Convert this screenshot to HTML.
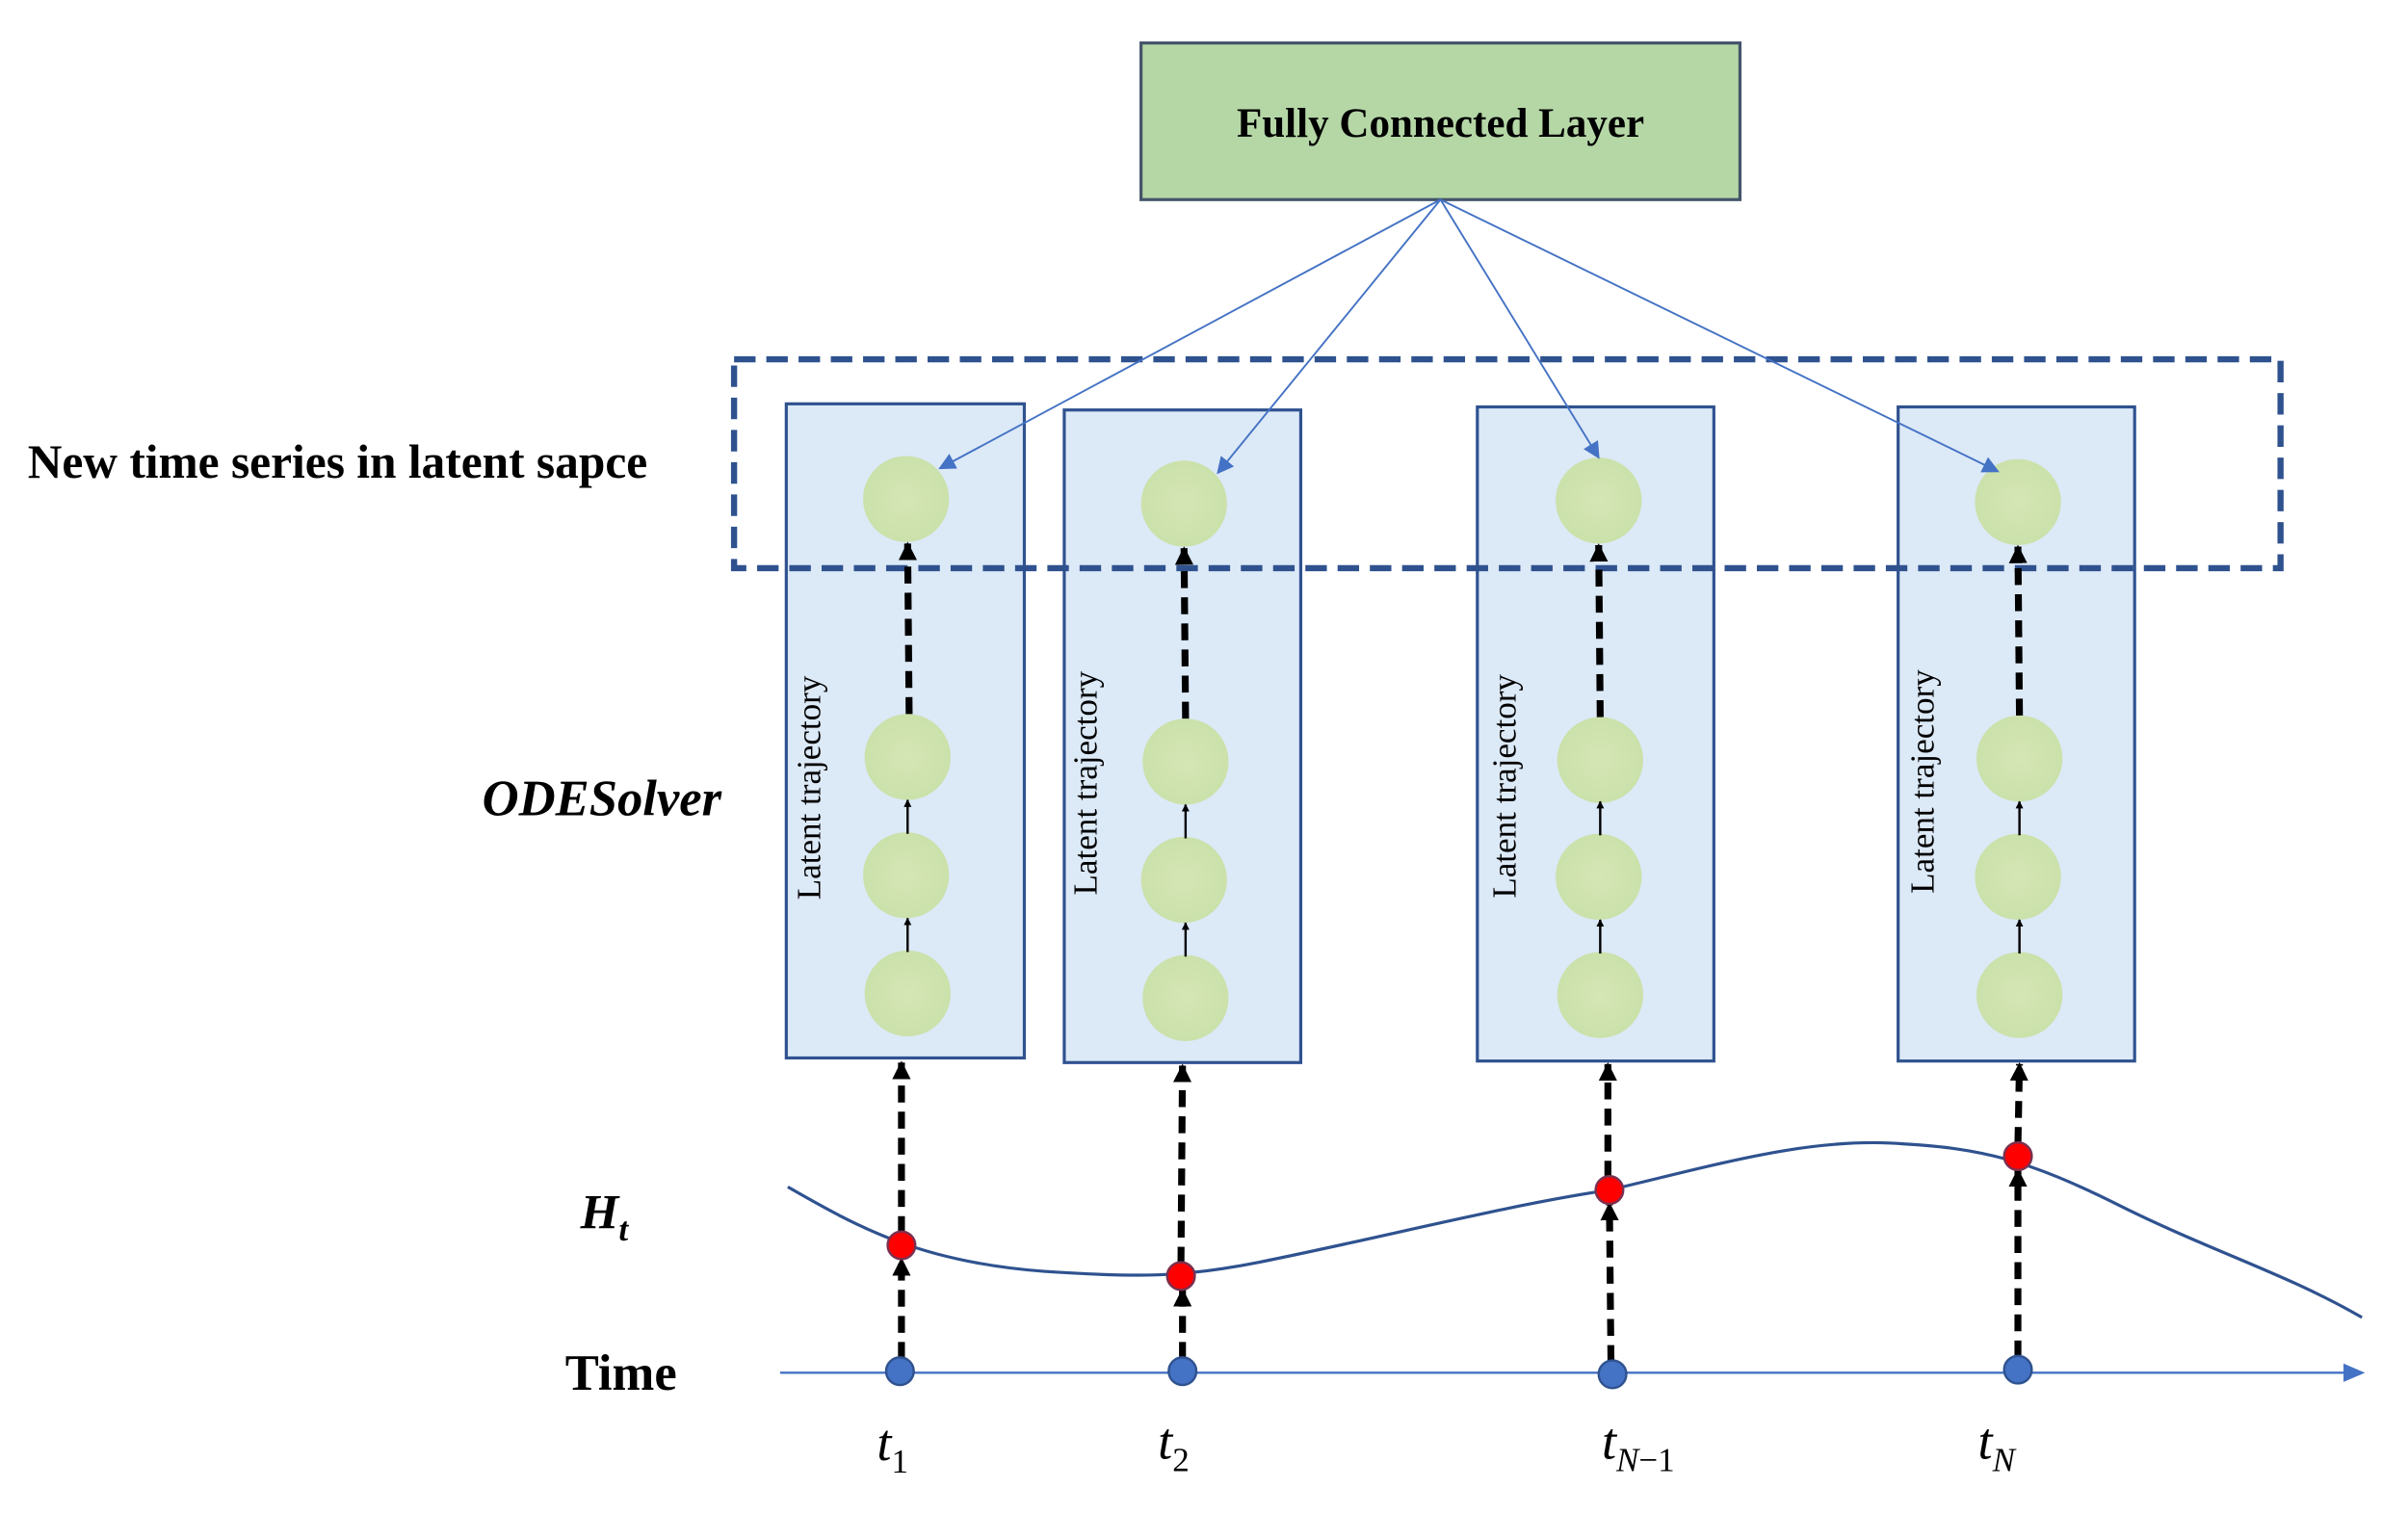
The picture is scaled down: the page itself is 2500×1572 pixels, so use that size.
<!DOCTYPE html>
<html><head><meta charset="utf-8"><style>
html,body{margin:0;padding:0;background:#fff;}
svg{display:block;}
text{font-family:"Liberation Serif",serif;}
</style></head><body>
<svg width="2500" height="1572" viewBox="0 0 1568 986" preserveAspectRatio="none" xmlns="http://www.w3.org/2000/svg">
<defs>
<marker id="ab" viewBox="0 0 10 10" refX="9" refY="5" markerWidth="5" markerHeight="5" orient="auto" markerUnits="userSpaceOnUse"><path d="M0,0L10,5L0,10z" fill="#000"/></marker>
<marker id="abk" viewBox="0 0 10 10" refX="9" refY="5" markerWidth="12" markerHeight="12" orient="auto" markerUnits="userSpaceOnUse"><path d="M0,0L10,5L0,10z" fill="#000"/></marker>
<marker id="abl" viewBox="0 0 10 10" refX="9" refY="5" markerWidth="13" markerHeight="11" orient="auto" markerUnits="userSpaceOnUse"><path d="M0,0L10,5L0,10z" fill="#4472c4"/></marker>
<radialGradient id="g" cx="0.5" cy="0.5" r="0.6"><stop offset="0" stop-color="#d5e6b5"/><stop offset="1" stop-color="#c9e0a8"/></radialGradient>
</defs>
<rect x="743" y="28" width="390" height="102" fill="#b5d7a6" stroke="#44546a" stroke-width="2"/>
<text x="938" y="89" font-size="27" font-weight="bold" text-anchor="middle">Fully Connected Layer</text>

<g fill="#dce9f7" stroke="#2f528f" stroke-width="2">
<rect x="512" y="263" width="155" height="426"/>
<rect x="693" y="267" width="154" height="425"/>
<rect x="962" y="265" width="154" height="426"/>
<rect x="1236" y="265" width="154" height="426"/>
</g>
<rect x="478" y="234" width="1007" height="136" fill="none" stroke="#2f528f" stroke-width="4" stroke-dasharray="14,7"/>

<g font-size="22" fill="#000">
<text transform="translate(534,586) rotate(-90)">Latent trajectory</text>
<text transform="translate(714,583) rotate(-90)">Latent trajectory</text>
<text transform="translate(987,585) rotate(-90)">Latent trajectory</text>
<text transform="translate(1259,582) rotate(-90)">Latent trajectory</text>
</g>

<g fill="url(#g)">
<ellipse cx="590" cy="325" rx="28" ry="28"/><ellipse cx="591" cy="493" rx="28" ry="28"/><ellipse cx="590" cy="570" rx="28" ry="28"/><ellipse cx="591" cy="647" rx="28" ry="28"/>
<ellipse cx="771" cy="328" rx="28" ry="28"/><ellipse cx="772" cy="496" rx="28" ry="28"/><ellipse cx="771" cy="573" rx="28" ry="28"/><ellipse cx="772" cy="650" rx="28" ry="28"/>
<ellipse cx="1041" cy="326" rx="28" ry="28"/><ellipse cx="1042" cy="495" rx="28" ry="28"/><ellipse cx="1041" cy="571" rx="28" ry="28"/><ellipse cx="1042" cy="648" rx="28" ry="28"/>
<ellipse cx="1314" cy="327" rx="28" ry="28"/><ellipse cx="1315" cy="494" rx="28" ry="28"/><ellipse cx="1314" cy="571" rx="28" ry="28"/><ellipse cx="1315" cy="648" rx="28" ry="28"/>
</g>

<g stroke="#000" stroke-width="4.5" stroke-dasharray="11,6" marker-end="url(#abk)">
<line x1="592" y1="465" x2="591" y2="354"/>
<line x1="772" y1="468" x2="771" y2="357"/>
<line x1="1042" y1="467" x2="1041" y2="355"/>
<line x1="1315" y1="466" x2="1314" y2="356"/>
</g>
<g stroke="#000" stroke-width="1.5" marker-end="url(#ab)">
<line x1="591" y1="543" x2="591" y2="521"/><line x1="591" y1="620" x2="591" y2="598"/>
<line x1="772" y1="546" x2="772" y2="524"/><line x1="772" y1="623" x2="772" y2="601"/>
<line x1="1042" y1="544" x2="1042" y2="522"/><line x1="1042" y1="621" x2="1042" y2="599"/>
<line x1="1315" y1="544" x2="1315" y2="522"/><line x1="1315" y1="621" x2="1315" y2="599"/>
</g>

<g stroke="#4472c4" stroke-width="1.2" marker-end="url(#abl)">
<line x1="938" y1="130" x2="612" y2="305"/>
<line x1="938" y1="130" x2="793" y2="308"/>
<line x1="938" y1="130" x2="1041" y2="298"/>
<line x1="938" y1="130" x2="1301" y2="307"/>
</g>

<path d="M513,773 C560,800 600,822 680,828 C740,832 770,832 820,822 C900,806 980,785 1048,775 C1120,758 1180,740 1240,745 C1290,748 1320,755 1380,785 C1440,815 1490,830 1538,858" fill="none" stroke="#2f528f" stroke-width="2"/>

<line x1="508" y1="894" x2="1536" y2="894" stroke="#4472c4" stroke-width="1.5"/>
<path d="M1526,888 L1540,894 L1526,900 z" fill="#4472c4"/>

<g stroke="#000" stroke-width="4.5" stroke-dasharray="11,6" marker-end="url(#abk)">
<line x1="587" y1="885" x2="587" y2="820"/><line x1="587" y1="803" x2="587" y2="692"/>
<line x1="770" y1="885" x2="770" y2="840"/><line x1="769" y1="823" x2="770" y2="694"/>
<line x1="1049" y1="887" x2="1048" y2="784"/><line x1="1047" y1="767" x2="1047" y2="693"/>
<line x1="1314" y1="884" x2="1314" y2="762"/><line x1="1314" y1="745" x2="1315" y2="693"/>
</g>

<g fill="#ff0000" stroke="#7a3050" stroke-width="1.5">
<circle cx="587" cy="811" r="9"/><circle cx="769" cy="831" r="9"/><circle cx="1048" cy="775" r="9"/><circle cx="1314" cy="753" r="9"/>
</g>
<g fill="#4472c4" stroke="#2f528f" stroke-width="1.5">
<circle cx="586" cy="893" r="9"/><circle cx="770" cy="893" r="9"/><circle cx="1050" cy="895" r="9"/><circle cx="1314" cy="892" r="9"/>
</g>

<text x="18" y="311" font-size="31" font-weight="bold">New time series in latent sapce</text>
<text x="314" y="531" font-size="33" font-weight="bold" font-style="italic" font-family="Liberation Sans">ODESolver</text>
<text x="378" y="800" font-size="32" font-weight="bold" font-style="italic">H<tspan font-size="22" dy="8">t</tspan></text>
<text x="368" y="905" font-size="33" font-weight="bold">Time</text>
<g font-size="34" font-style="italic">
<text x="571" y="951">t<tspan font-size="22" font-style="normal" dy="8">1</tspan></text>
<text x="754" y="950">t<tspan font-size="22" font-style="normal" dy="8">2</tspan></text>
<text x="1043" y="950">t<tspan font-size="22" dy="8">N<tspan font-style="normal">−1</tspan></tspan></text>
<text x="1288" y="950">t<tspan font-size="22" dy="8">N</tspan></text>
</g>
</svg>
</body></html>
